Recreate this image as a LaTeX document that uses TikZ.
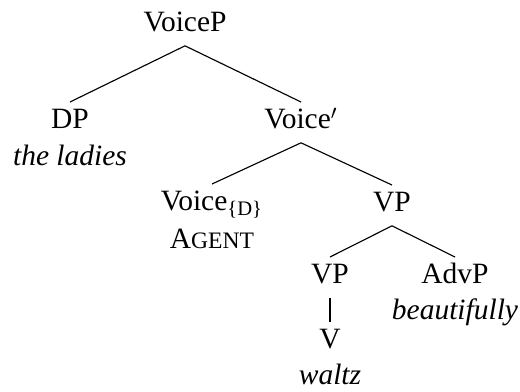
\documentclass[tikz,border=0pt]{standalone}
\usepackage{fontspec}
\setmainfont{Liberation Serif}
\begin{document}
\begin{tikzpicture}[x=0.441pt,y=-0.441pt,
  every node/.style={font=\fontsize{13pt}{15pt}\selectfont, anchor=base, inner xsep=0pt, inner ysep=3pt},
  cat/.style={text height=8.7pt, text depth=2.9pt},
  gloss/.style={font=\fontsize{13pt}{15pt}\selectfont\itshape},
  branch/.style={line width=0.5pt}]
\useasboundingbox (0,0) rectangle (520,392);
\node[cat] (voicep) at (185,32) {VoiceP};
\node[cat] (dp) at (70,129) {DP};
\node[gloss] (ladies) at (70,166) {the ladies};
\node[cat] (voicebar) at (301,129) {Voice$'$};
\node[cat] (voiced) at (212,211) {Voice\textsubscript{\{D\}}};
\node (agent) at (212,249) {A{\fontsize{10.4pt}{12pt}\selectfont GENT}};
\node[cat] (vp) at (392,212) {VP};
\node[cat] (vplow) at (330,284) {VP};
\node[cat] (advp) at (455,284) {AdvP};
\node[gloss] (beaut) at (455,320) {beautifully};
\node[cat] (v) at (330,349) {V};
\node[gloss] (waltz) at (330,385) {waltz};
\draw[branch] (voicep.south) -- (dp.north);
\draw[branch] (voicep.south) -- (voicebar.north);
\draw[branch] (voicebar.south) -- (voiced.north);
\draw[branch] (voicebar.south) -- (vp.north);
\draw[branch] (vp.south) -- (vplow.north);
\draw[branch] (vp.south) -- (advp.north);
\draw[branch] (vplow.south) -- (v.north);
\end{tikzpicture}
\end{document}
